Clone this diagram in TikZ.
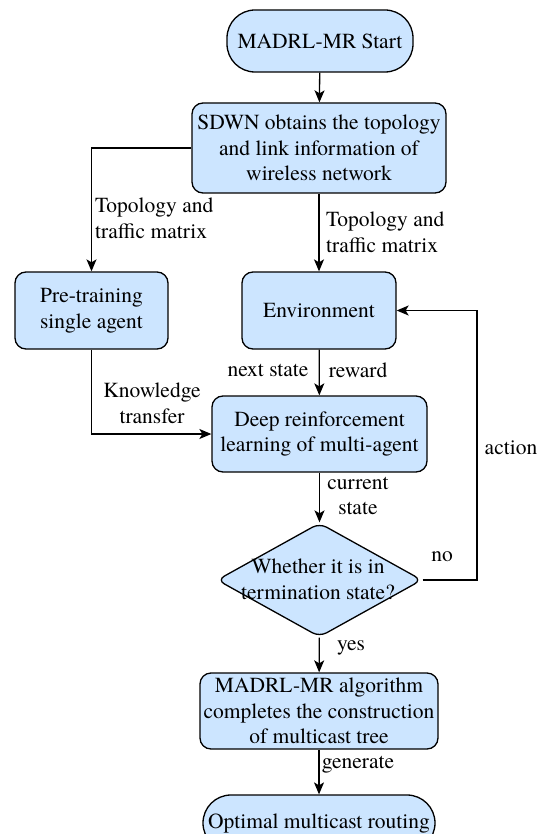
\documentclass[tikz,border=0pt]{standalone}
\usepackage{fontspec}
\newfontfamily\flowfont{texgyretermes}[Extension=.otf, UprightFont=*-regular]
\usetikzlibrary{arrows.meta,shapes.geometric}
\definecolor{boxblue}{HTML}{CCE5FF}
\begin{document}
\begin{tikzpicture}[x=1pt,y=-1pt,
  font=\flowfont\fontsize{21.5}{25.5}\selectfont,
  box/.style={draw=black, fill=boxblue, line width=1.3pt, rounded corners=11pt,
              align=center, inner sep=0pt},
  pill/.style={box, rounded corners=28pt},
  lbl/.style={align=center, inner sep=0pt},
  flow/.style={line width=1.3pt, -{Stealth[length=12pt,width=10pt,inset=3pt]}}]
\useasboundingbox (0,0) rectangle (539,834);

% process blocks
\node[pill, minimum width=186pt, minimum height=62pt] (start) at (320,41) {MADRL-MR Start};
\node[box, minimum width=254pt, minimum height=90pt] (sdwn) at (319,148)
  {SDWN obtains the topology\\and link information of\\wireless network};
\node[box, minimum width=153pt, minimum height=77pt] (pre) at (91.5,310.5)
  {Pre-training\\single agent};
\node[box, minimum width=154pt, minimum height=77pt] (env) at (319,310.5) {Environment};
\node[box, minimum width=215pt, minimum height=76pt] (drl) at (319.5,434)
  {Deep reinforcement\\learning of multi-agent};
\node[diamond, draw=black, fill=boxblue, line width=1.3pt, rounded corners=8pt,
      minimum width=205pt, minimum height=114pt, inner sep=0pt] (dec) at (319.5,580) {};
\node[lbl] (dectext) at (318,579.5) {Whether it is in\\termination state?};
\node[box, minimum width=238pt, minimum height=76pt] (fin) at (319,711)
  {MADRL-MR algorithm\\completes the construction\\of multicast tree};
\node[pill, minimum width=232pt, minimum height=56pt] (out) at (319,823)
  {Optimal multicast routing};
\coordinate (loop) at (477,580);

% connectors
\draw[flow] (start) -- (sdwn);
\draw[flow] (sdwn.west) -| (pre.north);
\draw[flow] (sdwn) -- (env);
\draw[flow] (env) -- (drl);
\draw[flow] (pre.south) |- (drl.west);
\draw[flow] (drl) -- (dec);
\draw[flow] (dec.east) -- (loop) |- (env.east);
\draw[flow] (dec) -- (fin);
\draw[flow] (fin) -- (out);

% connector labels
\node[lbl, align=left, anchor=west] (l1) at (95,218.5) {Topology and\\traffic matrix};
\node[lbl, align=left, anchor=west] (l2) at (326,232.5) {Topology and\\traffic matrix};
\node[lbl] (l3) at (268,370) {next state};
\node[lbl] (l4) at (358,370) {reward};
\node[lbl] (l5) at (152,403.5) {Knowledge\\transfer};
\node[lbl] (l6) at (358,496) {current\\state};
\node[lbl] (l7) at (442,557) {no};
\node[lbl] (l8) at (511,448) {action};
\node[lbl] (l9) at (351,648) {yes};
\node[lbl] (l10) at (358,765) {generate};
\end{tikzpicture}
\end{document}
